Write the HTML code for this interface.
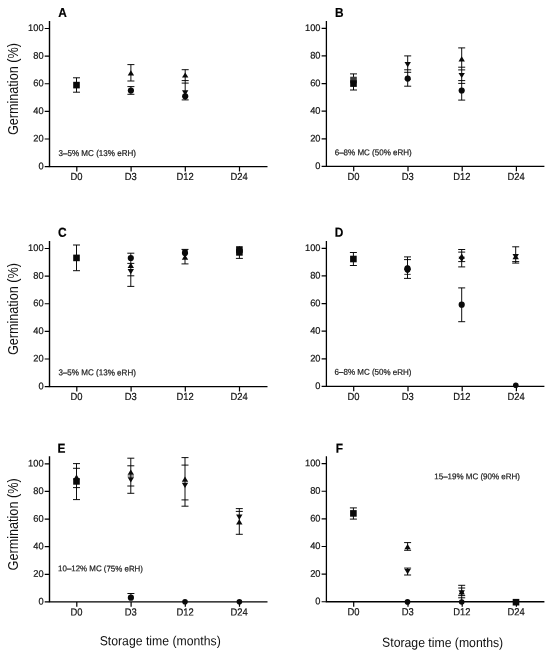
<!DOCTYPE html>
<html><head><meta charset="utf-8"><title>Germination</title>
<style>html,body{margin:0;padding:0;background:#fff;}body{width:550px;height:655px;overflow:hidden;font-family:"Liberation Sans",sans-serif;}svg{display:block;filter:blur(0.35px);}</style>
</head><body>
<svg width="550" height="655" viewBox="0 0 550 655" font-family="Liberation Sans, sans-serif" fill="#000">
<rect width="550" height="655" fill="#fff"/>
<g><g stroke="#000" stroke-width="1.4" fill="none"><path d="M49.50 21.04V167.25M48.85 166.60H267.50"/></g><g stroke="#000" stroke-width="1.2" fill="none"><path d="M44.70 166.60H49.50M44.70 138.98H49.50M44.70 111.36H49.50M44.70 83.74H49.50M44.70 56.12H49.50M44.70 28.50H49.50M76.80 166.60V171.50M131.10 166.60V171.50M185.30 166.60V171.50M239.50 166.60V171.50"/></g><text transform="translate(43.60 169.20) rotate(0.03) scale(1 1.03)" font-size="9.3" text-anchor="end" fill="#111" stroke="#111" stroke-width="0.18">0</text><text transform="translate(43.60 141.58) rotate(0.03) scale(1 1.03)" font-size="9.3" text-anchor="end" fill="#111" stroke="#111" stroke-width="0.18">20</text><text transform="translate(43.60 113.96) rotate(0.03) scale(1 1.03)" font-size="9.3" text-anchor="end" fill="#111" stroke="#111" stroke-width="0.18">40</text><text transform="translate(43.60 86.34) rotate(0.03) scale(1 1.03)" font-size="9.3" text-anchor="end" fill="#111" stroke="#111" stroke-width="0.18">60</text><text transform="translate(43.60 58.72) rotate(0.03) scale(1 1.03)" font-size="9.3" text-anchor="end" fill="#111" stroke="#111" stroke-width="0.18">80</text><text transform="translate(43.60 31.10) rotate(0.03) scale(1 1.03)" font-size="9.3" text-anchor="end" fill="#111" stroke="#111" stroke-width="0.18">100</text><text transform="translate(76.50 180.10) rotate(0.03) scale(1 1.09)" font-size="9.4" text-anchor="middle" fill="#111" stroke="#111" stroke-width="0.18">D0</text><text transform="translate(130.80 180.10) rotate(0.03) scale(1 1.09)" font-size="9.4" text-anchor="middle" fill="#111" stroke="#111" stroke-width="0.18">D3</text><text transform="translate(185.00 180.10) rotate(0.03) scale(1 1.09)" font-size="9.4" text-anchor="middle" fill="#111" stroke="#111" stroke-width="0.18">D12</text><text transform="translate(239.20 180.10) rotate(0.03) scale(1 1.09)" font-size="9.4" text-anchor="middle" fill="#111" stroke="#111" stroke-width="0.18">D24</text><text transform="translate(58.30 17.10) rotate(0.03) scale(1 1.09)" font-size="11.9" text-anchor="start" fill="#000" font-weight="bold" stroke="#000" stroke-width="0.16">A</text><text transform="translate(58.50 155.95) rotate(0.03) scale(1 1.05)" font-size="8.08" text-anchor="start" fill="#1a1a1a" stroke="#1a1a1a" stroke-width="0.2">3–5% MC (13% eRH)</text><text transform="translate(17.6 89.10) rotate(-90) scale(1 1.16)" font-size="12.65" text-anchor="middle" fill="#111">Germination (%)</text><path d="M76.50 77.80V92.20M73.00 77.80H80.00M73.00 92.20H80.00M130.90 64.60V81.00M127.40 64.60H134.40M127.40 81.00H134.40M130.90 86.60V94.30M127.40 86.60H134.40M127.40 94.30H134.40M185.20 69.70V99.90M181.70 69.70H188.70M181.70 80.60H188.70M181.70 83.10H188.70M181.70 99.90H188.70" stroke="#000" stroke-width="0.95" fill="none"/><g fill="#0a0a0a"><rect x="73.20" y="81.80" width="6.60" height="6.60"/><path d="M130.90 70.20L134.10 75.40L127.70 75.40Z"/><circle cx="130.90" cy="90.50" r="3.10"/><path d="M185.20 72.40L188.40 77.60L182.00 77.60Z"/><path d="M185.20 95.40L188.40 90.20L182.00 90.20Z"/><circle cx="185.20" cy="96.30" r="3.10"/></g></g>
<g><g stroke="#000" stroke-width="1.28" fill="none"><path d="M326.40 20.89V167.10M325.75 166.45H544.40"/></g><g stroke="#000" stroke-width="1.2" fill="none"><path d="M321.60 166.45H326.40M321.60 138.83H326.40M321.60 111.21H326.40M321.60 83.59H326.40M321.60 55.97H326.40M321.60 28.35H326.40M353.70 166.45V171.35M408.00 166.45V171.35M462.20 166.45V171.35M516.40 166.45V171.35"/></g><text transform="translate(320.50 169.05) rotate(0.03) scale(1 1.03)" font-size="9.3" text-anchor="end" fill="#111" stroke="#111" stroke-width="0.18">0</text><text transform="translate(320.50 141.43) rotate(0.03) scale(1 1.03)" font-size="9.3" text-anchor="end" fill="#111" stroke="#111" stroke-width="0.18">20</text><text transform="translate(320.50 113.81) rotate(0.03) scale(1 1.03)" font-size="9.3" text-anchor="end" fill="#111" stroke="#111" stroke-width="0.18">40</text><text transform="translate(320.50 86.19) rotate(0.03) scale(1 1.03)" font-size="9.3" text-anchor="end" fill="#111" stroke="#111" stroke-width="0.18">60</text><text transform="translate(320.50 58.57) rotate(0.03) scale(1 1.03)" font-size="9.3" text-anchor="end" fill="#111" stroke="#111" stroke-width="0.18">80</text><text transform="translate(320.50 30.95) rotate(0.03) scale(1 1.03)" font-size="9.3" text-anchor="end" fill="#111" stroke="#111" stroke-width="0.18">100</text><text transform="translate(353.40 179.95) rotate(0.03) scale(1 1.09)" font-size="9.4" text-anchor="middle" fill="#111" stroke="#111" stroke-width="0.18">D0</text><text transform="translate(407.70 179.95) rotate(0.03) scale(1 1.09)" font-size="9.4" text-anchor="middle" fill="#111" stroke="#111" stroke-width="0.18">D3</text><text transform="translate(461.90 179.95) rotate(0.03) scale(1 1.09)" font-size="9.4" text-anchor="middle" fill="#111" stroke="#111" stroke-width="0.18">D12</text><text transform="translate(516.10 179.95) rotate(0.03) scale(1 1.09)" font-size="9.4" text-anchor="middle" fill="#111" stroke="#111" stroke-width="0.18">D24</text><text transform="translate(334.90 17.10) rotate(0.03) scale(1 1.09)" font-size="11.9" text-anchor="start" fill="#000" font-weight="bold" stroke="#000" stroke-width="0.16">B</text><text transform="translate(334.70 155.25) rotate(0.03) scale(1 1.05)" font-size="8.03" text-anchor="start" fill="#1a1a1a" stroke="#1a1a1a" stroke-width="0.2">6–8% MC (50% eRH)</text><path d="M353.50 73.90V90.00M350.00 73.90H357.00M350.00 90.00H357.00M407.70 55.90V86.20M404.20 55.90H411.20M404.20 69.80H411.20M404.20 72.30H411.20M404.20 86.20H411.20M461.70 47.90V100.10M458.20 47.90H465.20M458.20 67.20H465.20M458.20 69.90H465.20M458.20 80.60H465.20M458.20 83.40H465.20M458.20 100.10H465.20" stroke="#000" stroke-width="0.95" fill="none"/><g fill="#0a0a0a"><rect x="350.20" y="76.70" width="6.60" height="6.60" fill="#3a3a3a"/><rect x="350.20" y="80.30" width="6.60" height="6.60"/><path d="M407.70 67.20L410.90 62.00L404.50 62.00Z"/><path d="M407.70 74.90L410.90 80.10L404.50 80.10Z"/><circle cx="407.70" cy="78.60" r="3.10"/><path d="M461.70 56.20L464.90 61.40L458.50 61.40Z"/><path d="M461.70 78.10L464.90 72.90L458.50 72.90Z"/><circle cx="461.70" cy="90.50" r="3.10"/></g></g>
<g><g stroke="#000" stroke-width="1.4" fill="none"><path d="M49.50 241.04V387.25M48.85 386.60H267.50"/></g><g stroke="#000" stroke-width="1.2" fill="none"><path d="M44.70 386.60H49.50M44.70 358.98H49.50M44.70 331.36H49.50M44.70 303.74H49.50M44.70 276.12H49.50M44.70 248.50H49.50M76.80 386.60V391.50M131.10 386.60V391.50M185.30 386.60V391.50M239.50 386.60V391.50"/></g><text transform="translate(43.60 389.20) rotate(0.03) scale(1 1.03)" font-size="9.3" text-anchor="end" fill="#111" stroke="#111" stroke-width="0.18">0</text><text transform="translate(43.60 361.58) rotate(0.03) scale(1 1.03)" font-size="9.3" text-anchor="end" fill="#111" stroke="#111" stroke-width="0.18">20</text><text transform="translate(43.60 333.96) rotate(0.03) scale(1 1.03)" font-size="9.3" text-anchor="end" fill="#111" stroke="#111" stroke-width="0.18">40</text><text transform="translate(43.60 306.34) rotate(0.03) scale(1 1.03)" font-size="9.3" text-anchor="end" fill="#111" stroke="#111" stroke-width="0.18">60</text><text transform="translate(43.60 278.72) rotate(0.03) scale(1 1.03)" font-size="9.3" text-anchor="end" fill="#111" stroke="#111" stroke-width="0.18">80</text><text transform="translate(43.60 251.10) rotate(0.03) scale(1 1.03)" font-size="9.3" text-anchor="end" fill="#111" stroke="#111" stroke-width="0.18">100</text><text transform="translate(76.50 400.10) rotate(0.03) scale(1 1.09)" font-size="9.4" text-anchor="middle" fill="#111" stroke="#111" stroke-width="0.18">D0</text><text transform="translate(130.80 400.10) rotate(0.03) scale(1 1.09)" font-size="9.4" text-anchor="middle" fill="#111" stroke="#111" stroke-width="0.18">D3</text><text transform="translate(185.00 400.10) rotate(0.03) scale(1 1.09)" font-size="9.4" text-anchor="middle" fill="#111" stroke="#111" stroke-width="0.18">D12</text><text transform="translate(239.20 400.10) rotate(0.03) scale(1 1.09)" font-size="9.4" text-anchor="middle" fill="#111" stroke="#111" stroke-width="0.18">D24</text><text transform="translate(58.00 236.70) rotate(0.03) scale(1 1.09)" font-size="11.9" text-anchor="start" fill="#000" font-weight="bold" stroke="#000" stroke-width="0.16">C</text><text transform="translate(58.40 375.35) rotate(0.03) scale(1 1.05)" font-size="8.08" text-anchor="start" fill="#1a1a1a" stroke="#1a1a1a" stroke-width="0.2">3–5% MC (13% eRH)</text><text transform="translate(17.6 309.10) rotate(-90) scale(1 1.16)" font-size="12.65" text-anchor="middle" fill="#111">Germination (%)</text><path d="M76.50 245.00V270.70M73.00 245.00H80.00M73.00 270.70H80.00M130.80 253.20V286.40M127.30 253.20H134.30M127.30 263.40H134.30M127.30 275.80H134.30M127.30 286.40H134.30M185.00 249.40V263.90M181.50 249.40H188.50M181.50 263.90H188.50M239.40 246.30V258.40M235.90 258.40H242.90" stroke="#000" stroke-width="0.95" fill="none"/><g fill="#0a0a0a"><rect x="73.20" y="254.60" width="6.60" height="6.60"/><circle cx="130.80" cy="258.00" r="3.10"/><path d="M130.80 262.70L134.00 267.90L127.60 267.90Z"/><path d="M130.80 274.30L134.00 269.10L127.60 269.10Z"/><path d="M185.00 254.60L188.20 249.40L181.80 249.40Z"/><circle cx="185.00" cy="252.90" r="3.10"/><path d="M185.00 254.60L188.20 259.80L181.80 259.80Z"/><rect x="236.10" y="246.20" width="6.60" height="6.60"/><circle cx="239.40" cy="251.00" r="3.10"/><rect x="236.10" y="249.10" width="6.60" height="6.60"/></g></g>
<g><g stroke="#000" stroke-width="1.28" fill="none"><path d="M326.40 240.89V387.10M325.75 386.45H544.40"/></g><g stroke="#000" stroke-width="1.2" fill="none"><path d="M321.60 386.45H326.40M321.60 358.83H326.40M321.60 331.21H326.40M321.60 303.59H326.40M321.60 275.97H326.40M321.60 248.35H326.40M353.70 386.45V391.35M408.00 386.45V391.35M462.20 386.45V391.35M516.40 386.45V391.35"/></g><text transform="translate(320.50 389.05) rotate(0.03) scale(1 1.03)" font-size="9.3" text-anchor="end" fill="#111" stroke="#111" stroke-width="0.18">0</text><text transform="translate(320.50 361.43) rotate(0.03) scale(1 1.03)" font-size="9.3" text-anchor="end" fill="#111" stroke="#111" stroke-width="0.18">20</text><text transform="translate(320.50 333.81) rotate(0.03) scale(1 1.03)" font-size="9.3" text-anchor="end" fill="#111" stroke="#111" stroke-width="0.18">40</text><text transform="translate(320.50 306.19) rotate(0.03) scale(1 1.03)" font-size="9.3" text-anchor="end" fill="#111" stroke="#111" stroke-width="0.18">60</text><text transform="translate(320.50 278.57) rotate(0.03) scale(1 1.03)" font-size="9.3" text-anchor="end" fill="#111" stroke="#111" stroke-width="0.18">80</text><text transform="translate(320.50 250.95) rotate(0.03) scale(1 1.03)" font-size="9.3" text-anchor="end" fill="#111" stroke="#111" stroke-width="0.18">100</text><text transform="translate(353.40 399.95) rotate(0.03) scale(1 1.09)" font-size="9.4" text-anchor="middle" fill="#111" stroke="#111" stroke-width="0.18">D0</text><text transform="translate(407.70 399.95) rotate(0.03) scale(1 1.09)" font-size="9.4" text-anchor="middle" fill="#111" stroke="#111" stroke-width="0.18">D3</text><text transform="translate(461.90 399.95) rotate(0.03) scale(1 1.09)" font-size="9.4" text-anchor="middle" fill="#111" stroke="#111" stroke-width="0.18">D12</text><text transform="translate(516.10 399.95) rotate(0.03) scale(1 1.09)" font-size="9.4" text-anchor="middle" fill="#111" stroke="#111" stroke-width="0.18">D24</text><text transform="translate(334.80 236.70) rotate(0.03) scale(1 1.09)" font-size="11.9" text-anchor="start" fill="#000" font-weight="bold" stroke="#000" stroke-width="0.16">D</text><text transform="translate(334.60 374.85) rotate(0.03) scale(1 1.05)" font-size="8.0" text-anchor="start" fill="#1a1a1a" stroke="#1a1a1a" stroke-width="0.2">6–8% MC (50% eRH)</text><path d="M353.40 252.50V265.50M349.90 252.50H356.90M349.90 265.50H356.90M407.50 256.90V278.40M404.00 256.90H411.00M404.00 259.60H411.00M404.00 278.40H411.00M461.70 249.50V266.90M458.20 249.50H465.20M458.20 252.10H465.20M458.20 261.60H465.20M458.20 266.90H465.20M461.70 287.90V321.70M458.20 287.90H465.20M458.20 321.70H465.20M515.70 246.80V263.10M512.20 246.80H519.20M512.20 261.60H519.20M512.20 263.10H519.20" stroke="#000" stroke-width="0.95" fill="none"/><g fill="#0a0a0a"><rect x="350.10" y="255.70" width="6.60" height="6.60"/><path d="M407.50 264.20L410.70 269.40L404.30 269.40Z"/><circle cx="407.50" cy="268.40" r="3.10"/><circle cx="407.50" cy="269.40" r="3.10"/><path d="M407.50 274.10L410.70 268.90L404.30 268.90Z"/><rect x="404.30" y="273.90" width="6.40" height="0.8"/><path d="M461.70 253.50L464.90 258.70L458.50 258.70Z"/><path d="M461.70 262.00L464.90 256.80L458.50 256.80Z"/><circle cx="461.70" cy="304.70" r="3.10"/><path d="M515.70 259.20L518.90 254.00L512.50 254.00Z"/><path d="M515.70 254.00L518.90 259.20L512.50 259.20Z"/><circle cx="515.80" cy="385.30" r="2.8"/></g></g>
<g><g stroke="#000" stroke-width="1.4" fill="none"><path d="M49.50 456.34V602.55M48.85 601.90H267.50"/></g><g stroke="#000" stroke-width="1.2" fill="none"><path d="M44.70 601.90H49.50M44.70 574.28H49.50M44.70 546.66H49.50M44.70 519.04H49.50M44.70 491.42H49.50M44.70 463.80H49.50M76.80 601.90V606.80M131.10 601.90V606.80M185.30 601.90V606.80M239.50 601.90V606.80"/></g><text transform="translate(43.60 604.50) rotate(0.03) scale(1 1.03)" font-size="9.3" text-anchor="end" fill="#111" stroke="#111" stroke-width="0.18">0</text><text transform="translate(43.60 576.88) rotate(0.03) scale(1 1.03)" font-size="9.3" text-anchor="end" fill="#111" stroke="#111" stroke-width="0.18">20</text><text transform="translate(43.60 549.26) rotate(0.03) scale(1 1.03)" font-size="9.3" text-anchor="end" fill="#111" stroke="#111" stroke-width="0.18">40</text><text transform="translate(43.60 521.64) rotate(0.03) scale(1 1.03)" font-size="9.3" text-anchor="end" fill="#111" stroke="#111" stroke-width="0.18">60</text><text transform="translate(43.60 494.02) rotate(0.03) scale(1 1.03)" font-size="9.3" text-anchor="end" fill="#111" stroke="#111" stroke-width="0.18">80</text><text transform="translate(43.60 466.40) rotate(0.03) scale(1 1.03)" font-size="9.3" text-anchor="end" fill="#111" stroke="#111" stroke-width="0.18">100</text><text transform="translate(76.50 615.40) rotate(0.03) scale(1 1.09)" font-size="9.4" text-anchor="middle" fill="#111" stroke="#111" stroke-width="0.18">D0</text><text transform="translate(130.80 615.40) rotate(0.03) scale(1 1.09)" font-size="9.4" text-anchor="middle" fill="#111" stroke="#111" stroke-width="0.18">D3</text><text transform="translate(185.00 615.40) rotate(0.03) scale(1 1.09)" font-size="9.4" text-anchor="middle" fill="#111" stroke="#111" stroke-width="0.18">D12</text><text transform="translate(239.20 615.40) rotate(0.03) scale(1 1.09)" font-size="9.4" text-anchor="middle" fill="#111" stroke="#111" stroke-width="0.18">D24</text><text transform="translate(57.60 452.70) rotate(0.03) scale(1 1.09)" font-size="11.9" text-anchor="start" fill="#000" font-weight="bold" stroke="#000" stroke-width="0.16">E</text><text transform="translate(58.10 571.35) rotate(0.03) scale(1 1.05)" font-size="7.92" text-anchor="start" fill="#1a1a1a" stroke="#1a1a1a" stroke-width="0.2">10–12% MC (75% eRH)</text><text transform="translate(17.6 524.40) rotate(-90) scale(1 1.16)" font-size="12.65" text-anchor="middle" fill="#111">Germination (%)</text><path d="M76.50 463.60V499.60M73.00 463.60H80.00M73.00 468.30H80.00M73.00 487.60H80.00M73.00 499.60H80.00M130.80 458.20V493.30M127.30 458.20H134.30M127.30 465.80H134.30M127.30 486.00H134.30M127.30 493.30H134.30M130.90 593.50V598.00M127.40 593.50H134.40M185.00 457.60V506.20M181.50 457.60H188.50M181.50 465.10H188.50M181.50 499.90H188.50M181.50 506.20H188.50M239.30 508.60V534.30M235.80 508.60H242.80M235.80 511.40H242.80M235.80 534.30H242.80" stroke="#000" stroke-width="0.95" fill="none"/><g fill="#0a0a0a"><path d="M76.50 474.60L79.70 479.80L73.30 479.80Z"/><rect x="73.20" y="478.10" width="6.60" height="6.60"/><path d="M130.80 469.60L134.00 474.80L127.60 474.80Z"/><rect x="127.60" y="475.60" width="6.40" height="0.8"/><path d="M130.80 482.40L134.00 477.20L127.60 477.20Z"/><circle cx="130.90" cy="597.70" r="3.10"/><path d="M185.00 476.50L188.20 481.70L181.80 481.70Z"/><path d="M185.00 487.90L188.20 482.70L181.80 482.70Z"/><circle cx="185.00" cy="601.80" r="2.8"/><path d="M239.30 519.70L242.50 514.50L236.10 514.50Z"/><path d="M239.30 519.20L242.50 524.40L236.10 524.40Z"/><circle cx="239.40" cy="601.80" r="2.8"/></g></g>
<g><g stroke="#000" stroke-width="1.28" fill="none"><path d="M326.40 456.19V602.40M325.75 601.75H544.40"/></g><g stroke="#000" stroke-width="1.2" fill="none"><path d="M321.60 601.75H326.40M321.60 574.13H326.40M321.60 546.51H326.40M321.60 518.89H326.40M321.60 491.27H326.40M321.60 463.65H326.40M353.70 601.75V606.65M408.00 601.75V606.65M462.20 601.75V606.65M516.40 601.75V606.65"/></g><text transform="translate(320.50 604.35) rotate(0.03) scale(1 1.03)" font-size="9.3" text-anchor="end" fill="#111" stroke="#111" stroke-width="0.18">0</text><text transform="translate(320.50 576.73) rotate(0.03) scale(1 1.03)" font-size="9.3" text-anchor="end" fill="#111" stroke="#111" stroke-width="0.18">20</text><text transform="translate(320.50 549.11) rotate(0.03) scale(1 1.03)" font-size="9.3" text-anchor="end" fill="#111" stroke="#111" stroke-width="0.18">40</text><text transform="translate(320.50 521.49) rotate(0.03) scale(1 1.03)" font-size="9.3" text-anchor="end" fill="#111" stroke="#111" stroke-width="0.18">60</text><text transform="translate(320.50 493.87) rotate(0.03) scale(1 1.03)" font-size="9.3" text-anchor="end" fill="#111" stroke="#111" stroke-width="0.18">80</text><text transform="translate(320.50 466.25) rotate(0.03) scale(1 1.03)" font-size="9.3" text-anchor="end" fill="#111" stroke="#111" stroke-width="0.18">100</text><text transform="translate(353.40 615.25) rotate(0.03) scale(1 1.09)" font-size="9.4" text-anchor="middle" fill="#111" stroke="#111" stroke-width="0.18">D0</text><text transform="translate(407.70 615.25) rotate(0.03) scale(1 1.09)" font-size="9.4" text-anchor="middle" fill="#111" stroke="#111" stroke-width="0.18">D3</text><text transform="translate(461.90 615.25) rotate(0.03) scale(1 1.09)" font-size="9.4" text-anchor="middle" fill="#111" stroke="#111" stroke-width="0.18">D12</text><text transform="translate(516.10 615.25) rotate(0.03) scale(1 1.09)" font-size="9.4" text-anchor="middle" fill="#111" stroke="#111" stroke-width="0.18">D24</text><text transform="translate(335.70 452.70) rotate(0.03) scale(1 1.09)" font-size="11.9" text-anchor="start" fill="#000" font-weight="bold" stroke="#000" stroke-width="0.16">F</text><text transform="translate(434.30 479.15) rotate(0.03) scale(1 1.05)" font-size="8.0" text-anchor="start" fill="#1a1a1a" stroke="#1a1a1a" stroke-width="0.2">15–19% MC (90% eRH)</text><path d="M353.40 507.90V519.10M349.90 507.90H356.90M349.90 519.10H356.90M407.60 542.60V550.30M404.10 542.60H411.10M404.10 550.30H411.10M407.60 568.10V575.00M404.10 568.10H411.10M404.10 575.00H411.10M461.70 585.30V600.00M458.20 585.30H465.20M458.20 588.00H465.20M458.20 595.60H465.20M458.20 597.80H465.20" stroke="#000" stroke-width="0.95" fill="none"/><g fill="#0a0a0a"><rect x="350.10" y="510.10" width="6.60" height="6.60"/><path d="M407.60 544.10L410.80 549.30L404.40 549.30Z"/><path d="M407.60 574.20L410.80 569.00L404.40 569.00Z"/><circle cx="407.50" cy="601.90" r="2.8"/><path d="M461.70 589.30L464.90 594.50L458.50 594.50Z"/><path d="M461.70 595.50L464.90 590.30L458.50 590.30Z"/><circle cx="461.70" cy="602.00" r="2.8"/><rect x="512.70" y="598.90" width="6.60" height="6.60"/></g></g>
<text transform="translate(160.20 645.30) rotate(0.03) scale(1 1.07)" font-size="12.25" text-anchor="middle" fill="#111">Storage time (months)</text>
<text transform="translate(442.60 646.90) rotate(0.03) scale(1 1.07)" font-size="12.25" text-anchor="middle" fill="#111">Storage time (months)</text>
</svg>
</body></html>
